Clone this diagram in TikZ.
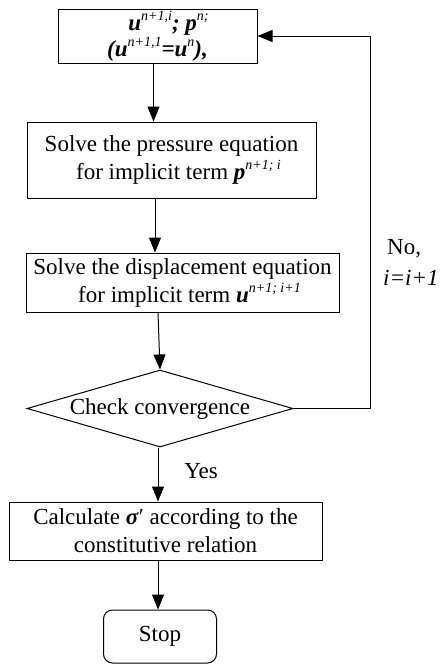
\documentclass[tikz,border=0pt]{standalone}
\usepackage{fontspec}
\setmainfont{Liberation Serif}
\usetikzlibrary{arrows.meta,shapes.geometric}
\newcommand{\bvu}{\textbf{\textit{u}}}
\newcommand{\bvp}{\textbf{\textit{p}}}
\newcommand{\bvs}{\textbf{\textit{σ}}}
\newcommand{\supx}[1]{\raisebox{0.42em}{\fontsize{14}{14}\selectfont\itshape\mdseries #1}}
\tikzset{
  every node/.style={font=\fontsize{23}{28}\selectfont},
  box/.style={draw, line width=1pt, align=center, inner sep=0pt},
  decis/.style={draw, line width=1pt, diamond, aspect=3.45, inner sep=0pt, minimum width=266pt, minimum height=77pt},
  term/.style={draw, line width=1pt, rounded corners=9pt, align=center, inner sep=0pt},
  arr/.style={line width=1pt, -{Triangle[length=15pt,width=12pt]}},
  lbl/.style={inner sep=0pt}
}
\begin{document}
\begin{tikzpicture}[x=1pt,y=-1pt]
\useasboundingbox (0,0) rectangle (440,665);
\node[box, minimum width=199pt, minimum height=54pt] (b1) at (157.5,36)
  {\hspace*{22pt}\bfseries\itshape u\supx{n+1,i}; p\supx{n;}\\[-2pt]\bfseries\itshape (u\supx{n+1,1}=u\supx{n}),};
\node[box, minimum width=289pt, minimum height=76pt] (b2) at (171.5,160)
  {Solve the pressure equation\\ \hspace*{14pt}for implicit term \bvp\supx{n+1; i}};
\node[box, minimum width=313pt, minimum height=59pt] (b3) at (182.5,282.5)
  {Solve the displacement equation\\ \hspace*{14pt}for implicit term \bvu\supx{n+1; i+1}};
\node[decis] (dia) at (160,408.5) {Check convergence};
\node[box, minimum width=313pt, minimum height=58pt] (b5) at (165.5,531)
  {Calculate \bvs′ according to the\\constitutive relation};
\node[term, minimum width=113pt, minimum height=53pt] (stop) at (160,636.5) {Stop};
\node[lbl] (yes) at (201,471) {Yes};
\node[lbl, anchor=west] (no) at (387,249) {No,};
\node[lbl, anchor=west] (inc) at (383,278) {\itshape i=i+1};
\coordinate (x1) at (153.5,0);
\coordinate (x2) at (155,0);
\coordinate (x3) at (158,0);
\coordinate (loopc) at (370,36);
\draw[arr] (b1.south -| x1) -- (b2.north -| x1);
\draw[arr] (b2.south -| x2) -- (b3.north -| x2);
\draw[arr] (b3.south -| x3) -- (dia.north);
\draw[arr] (dia.south -| x3) -- (b5.north -| x3);
\draw[arr] (b5.south -| x3) -- (stop.north -| x3);
\draw[arr] (dia.east) -| (loopc) -- (b1.east);
\end{tikzpicture}
\end{document}
